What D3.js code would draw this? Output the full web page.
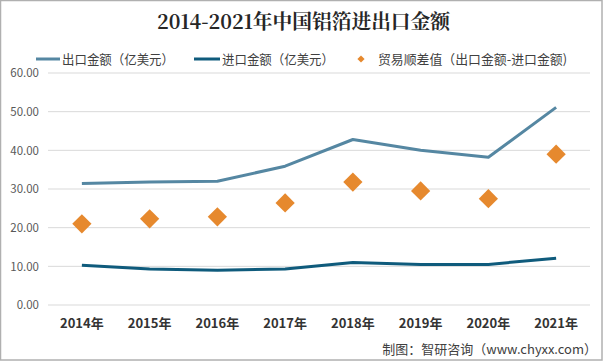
<!DOCTYPE html>
<html><head><meta charset="utf-8">
<script src="https://cdn.jsdelivr.net/npm/d3@7"></script>
<style>html,body{margin:0;padding:0;background:#fff;}svg{display:block;}</style>
</head><body>
<svg id="chart" width="605" height="363"></svg>
<script>
const years = ["2014年","2015年","2016年","2017年","2018年","2019年","2020年","2021年"];
const exportValues = [31.4, 31.8, 32.0, 35.9, 42.8, 40.0, 38.2, 51.1];
const importValues = [10.3, 9.3, 9.0, 9.3, 11.0, 10.5, 10.5, 12.1];
const balanceValues = [21.0, 22.3, 22.8, 26.4, 31.8, 29.5, 27.5, 39.0];
const yTicks = [0, 10, 20, 30, 40, 50, 60];
const seriesNames = ["出口金额（亿美元）", "进口金额（亿美元）", "贸易顺差值（出口金额-进口金额)"];

const svg = d3.select("#chart");
const W = 605, H = 363;
const m = {left: 48, right: 15, top: 73, bottom: 58};
const font = "'Microsoft YaHei','Noto Sans CJK SC','Noto Sans',sans-serif";

svg.append("rect").attr("x",0.5).attr("y",0.5).attr("width",601.5).attr("height",359.5)
  .attr("fill","#fff").attr("stroke","#b0b0b0").attr("stroke-width",1.5);

const x = d3.scaleBand().domain(years).range([m.left, W - m.right]);
const y = d3.scaleLinear().domain([0, 60]).range([H - m.bottom, m.top]);

// gridlines
svg.append("g").selectAll("line").data(yTicks).join("line")
  .attr("x1", m.left).attr("x2", W - m.right)
  .attr("y1", d => y(d)).attr("y2", d => y(d))
  .attr("stroke", "#d9d9d9").attr("stroke-width", 1);

// y axis
const yAxis = svg.append("g").attr("transform", `translate(${m.left},0)`)
  .call(d3.axisLeft(y).tickValues(yTicks).tickFormat(d3.format(".2f")).tickSize(0).tickPadding(9));
yAxis.select(".domain").remove();
yAxis.selectAll("text").attr("font-family", font).attr("font-size", 11.5).attr("fill", "#595959");

// x axis
const xAxis = svg.append("g").attr("transform", `translate(0,${H - m.bottom})`)
  .call(d3.axisBottom(x).tickSize(0).tickPadding(14));
xAxis.select(".domain").remove();
xAxis.selectAll("text").attr("font-family", font).attr("font-size", 13).attr("font-weight", "bold").attr("fill", "#333");

const cx = d => x(d) + x.bandwidth() / 2;

const line = d3.line().x((d, i) => cx(years[i])).y(d => y(d));
svg.append("path").datum(exportValues).attr("d", line)
  .attr("fill", "none").attr("stroke", "#5587a2").attr("stroke-width", 3).attr("stroke-linejoin","round");
svg.append("path").datum(importValues).attr("d", line)
  .attr("fill", "none").attr("stroke", "#0f5b7c").attr("stroke-width", 3).attr("stroke-linejoin","round");

const diamond = d3.symbol().type(d3.symbolSquare).size(185);
svg.append("g").selectAll("path").data(balanceValues).join("path")
  .attr("d", diamond())
  .attr("transform", (d, i) => `translate(${cx(years[i])},${y(d)}) rotate(45)`)
  .attr("fill", "#e6892e");

// title
svg.append("text").attr("x", 157).attr("y", 29)
  .attr("textLength", 293).attr("lengthAdjust", "spacingAndGlyphs")
  .attr("font-family", "'Noto Serif CJK SC','Noto Sans CJK SC',serif").attr("font-size", 20).attr("font-weight", "bold")
  .attr("fill", "#262626").text("2014-2021年中国铝箔进出口金额");

// legend
const lg = svg.append("g").attr("font-family", font).attr("font-size", 13).attr("fill", "#404040");
lg.append("line").attr("x1", 36).attr("x2", 60).attr("y1", 59).attr("y2", 59).attr("stroke", "#5587a2").attr("stroke-width", 3);
lg.append("text").attr("x", 62).attr("y", 64).attr("textLength", 112).attr("lengthAdjust", "spacingAndGlyphs").text(seriesNames[0]);
lg.append("line").attr("x1", 194).attr("x2", 220).attr("y1", 59).attr("y2", 59).attr("stroke", "#0f5b7c").attr("stroke-width", 3);
lg.append("text").attr("x", 222).attr("y", 64).attr("textLength", 112).attr("lengthAdjust", "spacingAndGlyphs").text(seriesNames[1]);
lg.append("path").attr("d", d3.symbol().type(d3.symbolSquare).size(26)())
  .attr("transform", "translate(361,59) rotate(45)").attr("fill", "#e6892e");
lg.append("text").attr("x", 378).attr("y", 64).attr("textLength", 189).attr("lengthAdjust", "spacingAndGlyphs").text(seriesNames[2]);

// source
svg.append("text").attr("x", 597).attr("y", 354).attr("text-anchor", "end")
  .attr("font-family", font).attr("font-size", 13).attr("fill", "#404040")
  .text("制图：智研咨询（www.chyxx.com）");
</script>
</body></html>
